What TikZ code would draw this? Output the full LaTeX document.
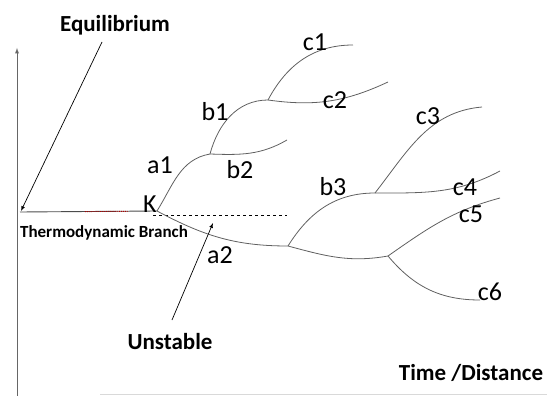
\documentclass[tikz,border=0pt]{standalone}
\usepackage{fontspec}
\setmainfont{Carlito}
\usetikzlibrary{arrows}

\begin{document}
\begin{tikzpicture}[x=1pt, y=1pt,
    branch/.style={draw=gray!75!black, line width=0.8pt},
    pointer/.style={draw=black, line width=0.7pt, -latex},
    lbl/.style={font=\fontsize{26}{28}\selectfont},
    title/.style={font=\fontsize{23}{26}\selectfont\bfseries}]
\tikzstyle{every node}+=[inner sep=0pt]
\useasboundingbox (0,0) rectangle (547,-396);

% axes
\coordinate (ybot) at (17,-396);
\coordinate (ytop) at (17,-48);
\coordinate (xleft) at (100,-394.5);
\coordinate (xright) at (547,-394.5);
\draw[gray!80!black, line width=0.9pt, -latex] (ybot) -- (ytop);
\draw[gray!30, line width=0.8pt] (xleft) -- (xright);

% branch points
\coordinate (O) at (20,-212);
\coordinate (K0) at (157,-211);
\coordinate (ja1) at (210,-154);
\coordinate (jb1) at (268,-100);
\coordinate (ja2) at (288,-246);
\coordinate (jb3) at (375,-193);
\coordinate (jb4) at (388,-256);
\coordinate (endb2) at (287,-140);
\coordinate (endc1) at (353,-45);
\coordinate (endc2) at (388,-82);
\coordinate (endc3) at (482,-107);
\coordinate (endc4) at (500,-171);
\coordinate (endc5) at (500,-198);
\coordinate (endc6) at (480,-300);
\coordinate (dashL) at (153,-215);
\coordinate (dashR) at (287,-215);
\coordinate (redL) at (85,-211.6);
\coordinate (redR) at (128,-211.3);

% thermodynamic branch
\draw[gray!60!black, line width=0.9pt] (O) -- (K0);
\draw[red!70!black, line width=0.9pt, densely dotted] (redL) -- (redR);
\draw[black, line width=0.6pt, dashed] (dashL) -- (dashR);

% upper branches
\draw[branch] (K0) to[out=58, in=190] (ja1);
\draw[branch] (ja1) to[out=75, in=180] (jb1);
\draw[branch] (ja1) to[out=-2, in=210] (endb2);
\draw[branch] (jb1) to[out=62, in=180] (endc1);
\draw[branch] (jb1) to[out=-8, in=205] (endc2);

% lower branches
\draw[branch] (K0) to[out=-28, in=180] (ja2);
\draw[branch] (ja2) to[out=58, in=180] (jb3);
\draw[branch] (jb3) to[out=52, in=185] (endc3);
\draw[branch] (jb3) to[out=0, in=208] (endc4);
\draw[branch] (ja2) to[out=-15, in=190] (jb4);
\draw[branch] (jb4) to[out=35, in=195] (endc5);
\draw[branch] (jb4) to[out=-50, in=180] (endc6);

% labels
\node[lbl] (k) at (150,-204) {K};
\node[lbl] (a1) at (160,-165) {a1};
\node[lbl] (a2) at (220,-255) {a2};
\node[lbl] (b1) at (215,-112) {b1};
\node[lbl] (b2) at (240,-170) {b2};
\node[lbl] (b3) at (333,-187) {b3};
\node[lbl] (c1) at (315,-42) {c1};
\node[lbl] (c2) at (335,-100) {c2};
\node[lbl] (c3) at (428,-116) {c3};
\node[lbl] (c4) at (465,-187) {c4};
\node[lbl] (c5) at (471,-214) {c5};
\node[lbl] (c6) at (490,-292) {c6};

\node[title] (eq) at (115,-25) {Equilibrium};
\node[title, font=\fontsize{17}{19}\selectfont\bfseries] (thermo) at (104,-233) {Thermodynamic Branch};
\node[title] (unst) at (170,-342) {Unstable};
\node[title] (timedist) at (471,-373) {Time /Distance};

% pointers
\coordinate (eqfoot) at (102,-42);
\coordinate (eqtip) at (21,-211);
\coordinate (unfoot) at (172,-320);
\coordinate (untip) at (213,-223);
\draw[pointer] (eqfoot) -- (eqtip);
\draw[pointer] (unfoot) -- (untip);
\end{tikzpicture}
\end{document}
